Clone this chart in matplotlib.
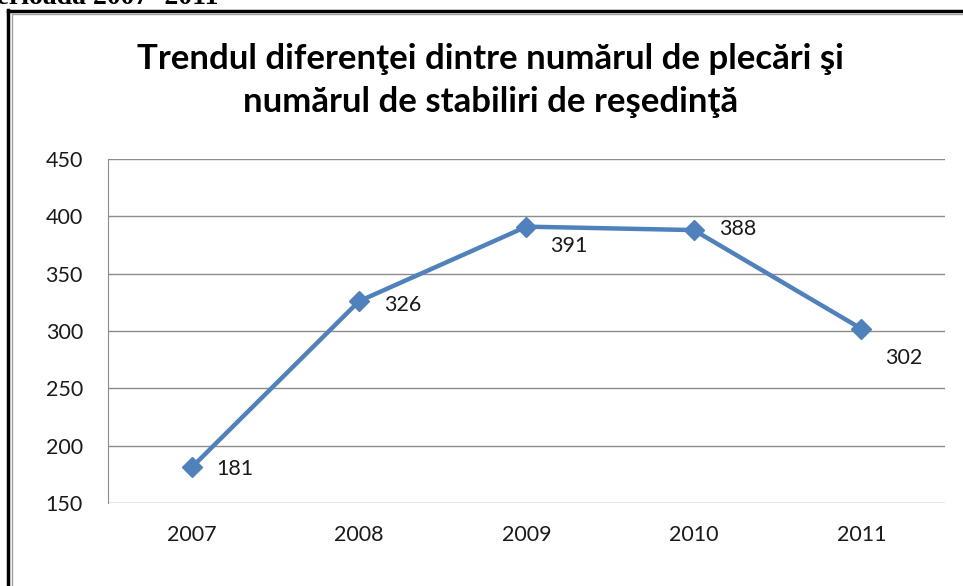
import matplotlib.pyplot as plt
from matplotlib.lines import Line2D

# Data
years = ['2007', '2008', '2009', '2010', '2011']
values = [181, 326, 391, 388, 302]
# offsets (points) for the value labels
label_offsets = [(18, -1), (18, -3), (17, -14), (18, 1), (17, -21)]

fig = plt.figure(figsize=(9.63, 5.86), dpi=100)
ax = fig.add_axes([0.1121, 0.1416, 0.8692, 0.5871])

x = range(len(years))
ax.plot(x, values, color='#4F81BD', linewidth=3.2, marker='D', markersize=10, zorder=3)

for xi, v, off in zip(x, values, label_offsets):
    ax.annotate(str(v), (xi, v), xytext=off, textcoords='offset points',
                ha='left', va='center', fontsize=15.5, family='Lato', color='#1a1a1a')

ax.set_xlim(-0.5, len(years) - 0.5)
ax.set_ylim(150, 450)
ax.set_yticks(range(150, 451, 50))
ax.set_xticks(list(x))
ax.set_xticklabels(years)
ax.grid(axis='y', color='#8c8c8c', linewidth=1)
ax.set_axisbelow(True)
for s in ['top', 'right', 'bottom']:
    ax.spines[s].set_visible(False)
ax.spines['left'].set_color('#8c8c8c')
ax.tick_params(length=0, labelsize=15.5, colors='#1a1a1a')
ax.tick_params(axis='x', pad=16)
ax.tick_params(axis='y', pad=18)
for lab in ax.get_xticklabels() + ax.get_yticklabels():
    lab.set_family('Lato')

fig.text(0.509, 0.862, 'Trendul diferenţei dintre numărul de plecări şi\nnumărul de stabiliri de reşedinţă',
         ha='center', va='center', fontsize=25, fontweight='bold', family='Lato',
         linespacing=1.42)

# frame around chart
W, H = 963, 586
fig.add_artist(Line2D([7.5 / W, 7.5 / W], [0, 1 - 10 / H], color='black', linewidth=2.5,
                      transform=fig.transFigure))
fig.add_artist(Line2D([7.5 / W, 1], [1 - 11 / H, 1 - 11 / H], color='black', linewidth=2.5,
                      transform=fig.transFigure))
fig.add_artist(Line2D([11.5 / W, 11.5 / W], [0, 1 - 13.5 / H], color='#a0a0a0', linewidth=1,
                      transform=fig.transFigure))
fig.add_artist(Line2D([11.5 / W, 1], [1 - 13.5 / H, 1 - 13.5 / H], color='#a0a0a0', linewidth=1,
                      transform=fig.transFigure))

# cropped caption above the frame
fig.text(218 / W, 1 - 4 / H, 'perioada 2007- 2011', ha='right', va='baseline',
         fontsize=20, fontweight='bold', family='Liberation Serif')

fig.savefig('out.png', dpi=100)
